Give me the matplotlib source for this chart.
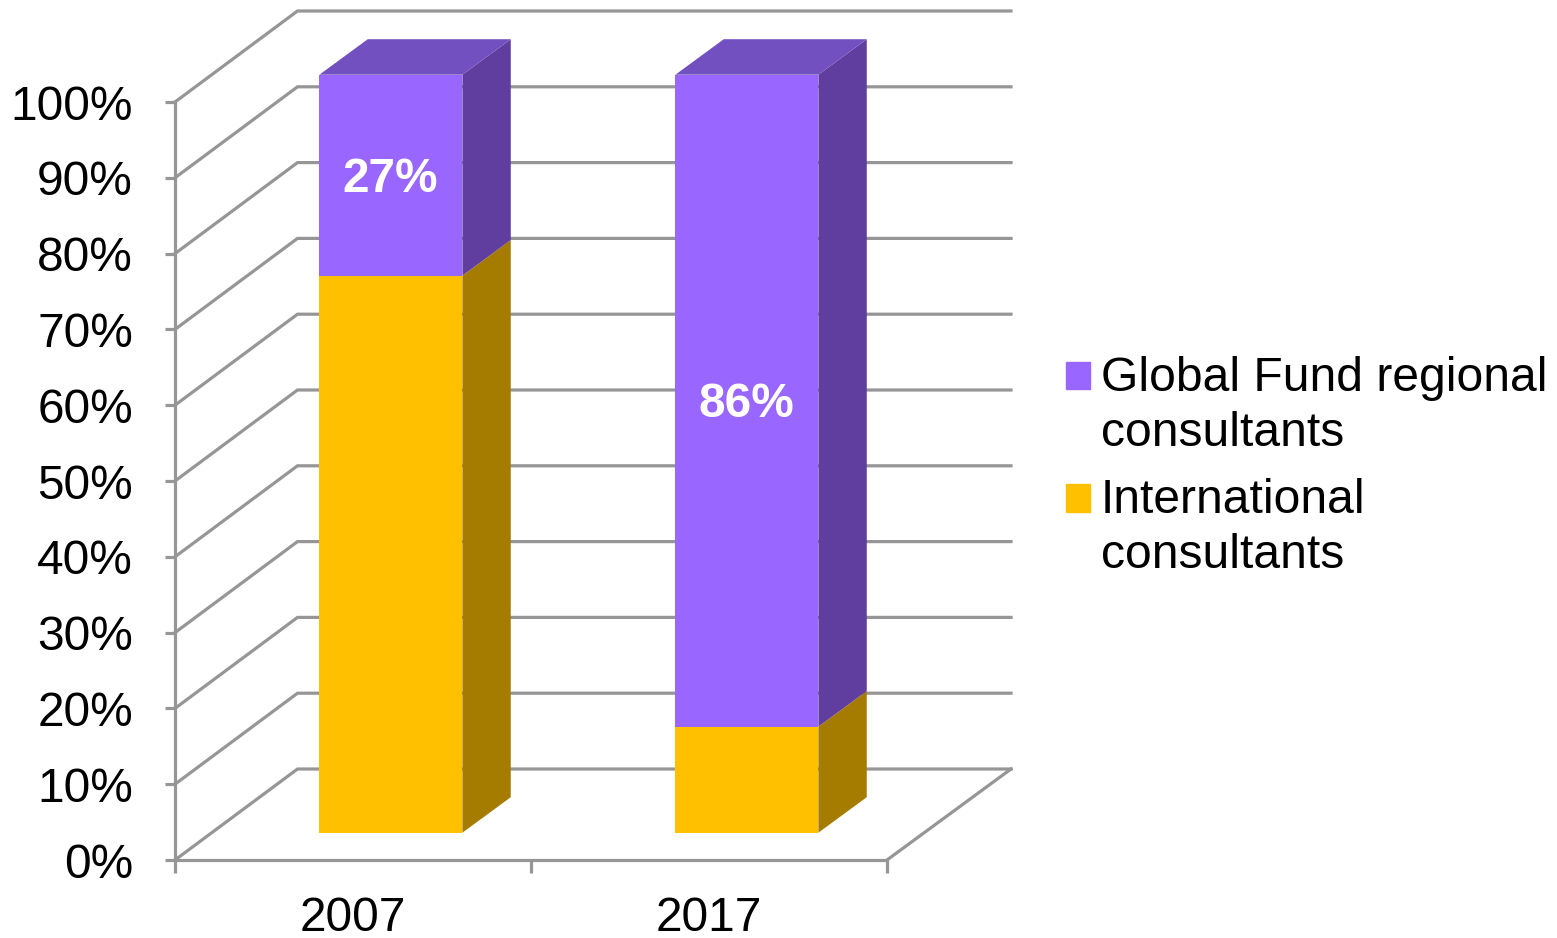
import matplotlib
matplotlib.use("Agg")
import matplotlib.pyplot as plt
from matplotlib.patches import Patch

categories = ["2007", "2017"]
international = [73.5, 14]
regional = [26.5, 86]
shown_labels = ["27%", "86%"]
series_names = ["Global Fund regional\nconsultants", "International\nconsultants"]
y_ticks = list(range(0, 101, 10))

W, H = 1557, 938
L, R, B, T = 175, 887, 860, 102
GRID = "#969696"
PURPLE, PURPLE_SIDE, PURPLE_TOP = "#9966FF", "#603E9F", "#7350BF"
ORANGE, ORANGE_SIDE = "#FFC000", "#A67C00"
FS = 34.4
LW = 2.3

plt.rcParams["font.family"] = ["Liberation Sans", "DejaVu Sans"]
fig = plt.figure(figsize=(W / 100, H / 100), dpi=100)
ax = fig.add_axes([L / W, 1 - B / H, (R - L) / W, (B - T) / H])
ax.set_xlim(-0.5, 1.5)
ax.set_ylim(0, 100)

# projection of depth, in data units
px_x = 2 / (R - L)
px_y = 100 / (B - T)
DX, DY = 124 * px_x, 91 * px_y
F0, F1 = 0.30, 0.69          # depth span of bars, as fraction of floor depth
BW = 143 * px_x
NUDGE = 0.7 * px_x


def prj(x, y, d):
    return x + DX * d, y + DY * d


# walls and gridlines
for v in y_ticks:
    xa, ya = prj(-0.5, v, 0)
    xb, yb = prj(-0.5, v, 1)
    xc, yc = prj(1.5, v, 1)
    ax.plot([xa, xb - 1.5 * px_x, xc], [ya, yb, yc], color=GRID, lw=LW,
            clip_on=False, zorder=1, solid_joinstyle="miter")
xa, ya = prj(1.5, 0, 0)
xb, yb = prj(1.5, 0, 1)
ax.plot([xa, xb], [ya, yb], color=GRID, lw=LW, clip_on=False, zorder=1)

for i, c in enumerate(categories):
    xf, yf = prj(i, 0, F0)
    xf += NUDGE
    for base, val, fc, sc, tc in [
        (0, international[i], ORANGE, ORANGE_SIDE, None),
        (international[i], regional[i], PURPLE, PURPLE_SIDE, PURPLE_TOP),
    ]:
        xa0, xa1 = xf - BW / 2, xf + BW / 2
        ya0, ya1 = yf + base, yf + base + val
        ax.bar(xf, val, BW, bottom=ya0, color=fc, zorder=3, clip_on=False)
        d = F1 - F0
        ax.fill([xa1, xa1 + DX * d, xa1 + DX * d, xa1],
                [ya0, ya0 + DY * d, ya1 + DY * d, ya1],
                color=sc, lw=0, zorder=3, clip_on=False)
        if tc:
            ax.fill([xa0, xa1, xa1 + DX * d, xa0 + DX * d],
                    [ya1, ya1, ya1 + DY * d, ya1 + DY * d],
                    color=tc, lw=0, zorder=3, clip_on=False)
    ax.annotate(shown_labels[i], (xf, yf + international[i] + regional[i] / 2),
                xytext=(-0.7, -3), textcoords="offset points",
                color="white", fontsize=FS, fontweight="bold",
                ha="center", va="center", zorder=5)

for s in ("top", "right"):
    ax.spines[s].set_visible(False)
for s in ("left", "bottom"):
    ax.spines[s].set_color(GRID)
    ax.spines[s].set_linewidth(LW)
    ax.spines[s].set_zorder(2)

ax.set_yticks(y_ticks)
ax.set_yticklabels([f"{v}%" for v in y_ticks])
ax.tick_params(axis="y", length=7.2, width=LW, color=GRID, pad=23,
               labelsize=FS, labelcolor="black")
ax.set_xticks([0, 1])
ax.set_xticklabels(categories)
ax.tick_params(axis="x", which="major", length=0, pad=26, labelsize=FS,
               labelcolor="black")
ax.set_xticks([-0.5, 0.5, 1.5], minor=True)
ax.tick_params(axis="x", which="minor", length=9.4, width=LW, color=GRID)

handles = [Patch(color=PURPLE), Patch(color=ORANGE)]
leg = fig.legend(handles, series_names, loc="upper left",
                 bbox_to_anchor=(1066 / W, 1 - 356 / H), frameon=False,
                 fontsize=34.6, handlelength=0.5, handleheight=0.5,
                 handletextpad=0.22, labelspacing=0.47, borderpad=0,
                 borderaxespad=0)
for t in leg.get_texts():
    t.set_linespacing(1.28)
for p in leg.get_patches():
    p.set_y(p.get_y() + 22)

fig.savefig("out.png", dpi=100)
